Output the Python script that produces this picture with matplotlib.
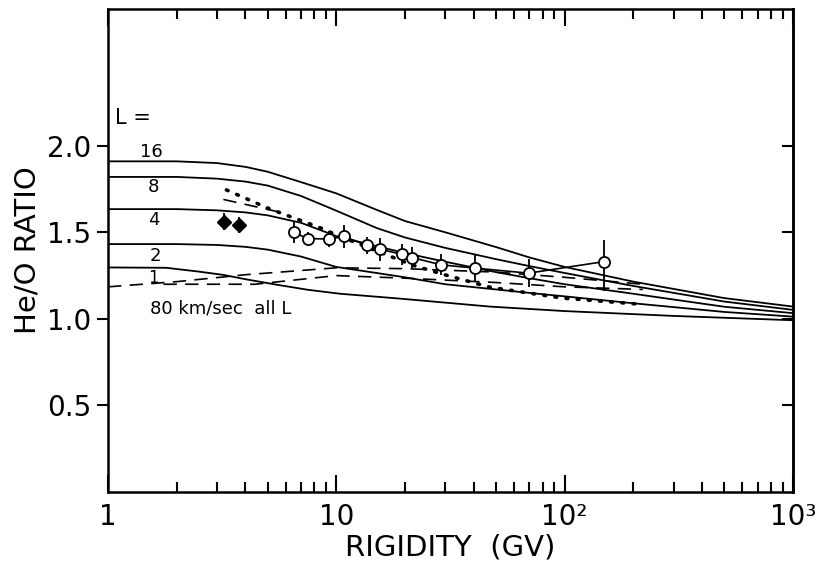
import numpy as np
import matplotlib
matplotlib.use("Agg")
import matplotlib.pyplot as plt
from matplotlib.ticker import FixedLocator, FixedFormatter, LogLocator, NullFormatter

# Model curves (He/O ratio vs rigidity) for several L values
rig = [1, 2, 3, 4, 5, 7, 10, 15, 20, 30, 50, 70, 100, 200, 500, 1000]
L16 = [1.91, 1.91, 1.9, 1.878, 1.85, 1.79, 1.725, 1.63, 1.565, 1.50, 1.415, 1.355, 1.30, 1.215, 1.12, 1.071]
L8 = [1.82, 1.82, 1.81, 1.793, 1.77, 1.71, 1.625, 1.525, 1.47, 1.41, 1.345, 1.305, 1.265, 1.19, 1.10, 1.052]
L4 = [1.634, 1.634, 1.627, 1.615, 1.598, 1.555, 1.478, 1.42, 1.38, 1.33, 1.27, 1.235, 1.20, 1.145, 1.07, 1.033]
L2 = [1.432, 1.432, 1.427, 1.416, 1.40, 1.36, 1.30, 1.265, 1.24, 1.20, 1.17, 1.15, 1.13, 1.09, 1.04, 1.013]

rig_L1 = [1, 1.8, 2.5, 3.2, 4, 5.5, 7.5, 10.4, 19, 47, 100, 300, 1000]
L1 = [1.297, 1.295, 1.273, 1.254, 1.229, 1.197, 1.168, 1.145, 1.117, 1.071, 1.045, 1.017, 0.992]

# dashed curves
dash1_x = [1, 2, 4, 10, 20, 50, 100, 220]
dash1_y = [1.185, 1.215, 1.255, 1.295, 1.29, 1.27, 1.24, 1.20]
dash2_x = [1.75, 4.4, 10, 20, 50, 100, 220]
dash2_y = [1.20, 1.20, 1.25, 1.235, 1.21, 1.185, 1.17]
dash3_x = [3.2, 5.5]
dash3_y = [1.69, 1.62]

# dotted curve
dot_x = [3.3, 5, 8.5, 10.4, 21.6, 30, 47, 98, 203]
dot_y = [1.745, 1.64, 1.526, 1.476, 1.31, 1.254, 1.183, 1.12, 1.087]

# measurements
open_x = [6.5, 7.5, 9.3, 10.8, 13.6, 15.6, 19.3, 21.5, 28.8, 40.6, 69.5, 149]
open_y = [1.499, 1.464, 1.461, 1.476, 1.424, 1.402, 1.373, 1.354, 1.312, 1.293, 1.264, 1.331]
open_lo = [0.058, 0.04, 0.045, 0.067, 0.05, 0.065, 0.06, 0.06, 0.06, 0.075, 0.08, 0.17]
open_hi = [0.058, 0.04, 0.045, 0.067, 0.05, 0.065, 0.06, 0.06, 0.06, 0.075, 0.08, 0.125]

fill_x = [3.21, 3.74]
fill_y = [1.562, 1.543]
fill_err = [0.05, 0.045]

fig = plt.figure(figsize=(8.22, 5.73), dpi=100)
ax = fig.add_axes([0.1314, 0.1414, 0.8333, 0.8429])

lw = 1.3
for ys in [L16, L8, L4, L2]:
    ax.plot(rig, ys, color='black', lw=lw)
ax.plot(rig_L1, L1, color='black', lw=lw)

ax.plot(dash1_x, dash1_y, color='black', lw=1.2, linestyle=(0, (8, 5)))
ax.plot(dash2_x, dash2_y, color='black', lw=1.2, linestyle=(0, (8, 5)))
ax.plot(dash3_x, dash3_y, color='black', lw=1.2, linestyle=(0, (8, 5)))
ax.plot(dot_x, dot_y, color='black', lw=2.6, linestyle=(0, (0.5, 2.6)), dash_capstyle='round')

ax.errorbar(open_x, open_y, yerr=[open_lo, open_hi], fmt='o-', color='black', mfc='white',
            mec='black', ms=8, mew=1.3, lw=1.2, elinewidth=1.3, capsize=0, zorder=5)
ax.errorbar(fill_x, fill_y, yerr=fill_err, fmt='D', color='black', ms=7, elinewidth=1.3,
            capsize=0, zorder=5)

# labels on curves
ax.text(1.29, 2.16, 'L =', fontsize=15, ha='center', va='center')
ax.text(1.55, 1.965, '16', fontsize=13, ha='center', va='center')
ax.text(1.58, 1.763, '8', fontsize=13, ha='center', va='center')
ax.text(1.58, 1.572, '4', fontsize=13, ha='center', va='center')
ax.text(1.61, 1.364, '2', fontsize=13, ha='center', va='center')
ax.text(1.58, 1.237, '1', fontsize=12, ha='center', va='center')
ax.text(1.52, 1.058, '80 km/sec  all L', fontsize=13, ha='left', va='center')

ax.set_xscale('log')
ax.set_xlim(1, 1000)
ax.set_ylim(0, 2.79)

ax.xaxis.set_major_locator(FixedLocator([1, 10, 100, 1000]))
ax.xaxis.set_major_formatter(FixedFormatter(['1', '10', '10²', '10³']))
ax.xaxis.set_minor_locator(LogLocator(base=10, subs=np.arange(2, 10)))
ax.xaxis.set_minor_formatter(NullFormatter())
ax.tick_params(axis='x', which='major', direction='in', top=True, length=12, width=1.5,
               labelsize=20, pad=8)
ax.tick_params(axis='x', which='minor', direction='in', top=True, length=7, width=1.5)

ax.set_yticks([0.5, 1.0, 1.5, 2.0])
ax.set_yticklabels(['0.5', '1.0', '1.5', '2.0'])
ax.tick_params(axis='y', direction='out', length=8, width=1.5, labelsize=20, pad=4)
sec = ax.secondary_yaxis('right')
sec.set_yticks([0.5, 1.0, 1.5, 2.0])
sec.tick_params(direction='in', length=8, width=1.5, labelright=False)
sec.spines['right'].set_linewidth(1.8)

for s in ax.spines.values():
    s.set_linewidth(1.8)

ax.set_xlabel('RIGIDITY  (GV)', fontsize=21, labelpad=2)
ax.set_ylabel('He/O RATIO', fontsize=21, labelpad=4)

fig.savefig('out.png', dpi=100)
